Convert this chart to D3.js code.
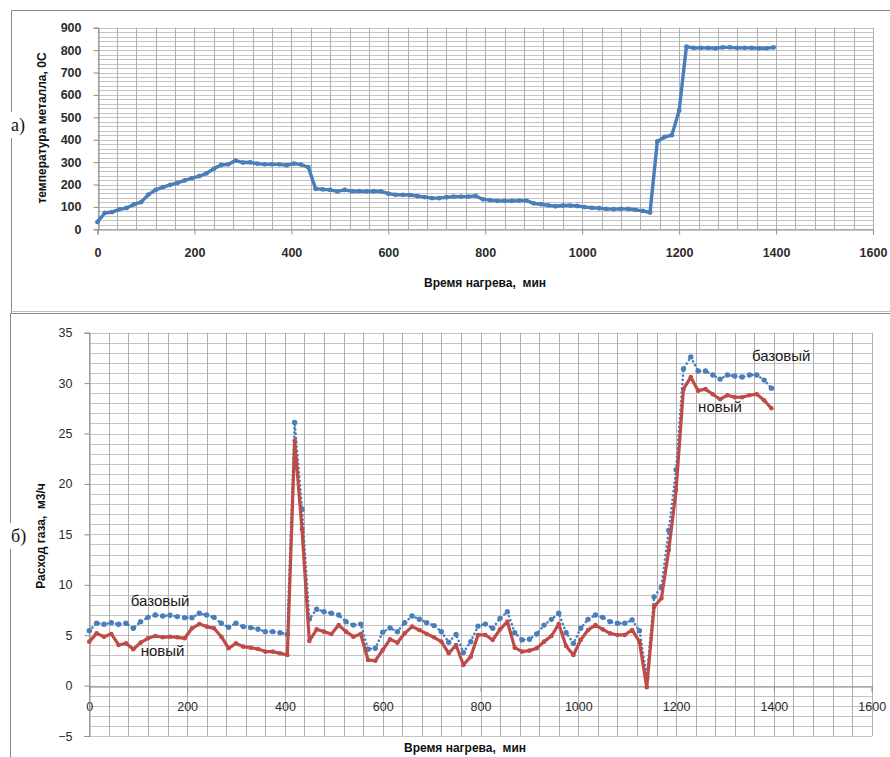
<!DOCTYPE html>
<html>
<head>
<meta charset="utf-8">
<script src="https://cdn.jsdelivr.net/npm/d3@7"></script>
<style>
	body { margin: 0; background: white; }
	svg { display: block; }
	text { white-space: pre; }
</style>
</head>
<body>
<div id="viz"></div>
<script>

// Time of heating, min (one reading every 15 min)
var times = [
	0, 15, 30, 45, 60, 75, 90, 105, 120, 135,
	150, 165, 180, 195, 210, 225, 240, 255, 270, 285,
	300, 315, 330, 345, 360, 375, 390, 405, 420, 435,
	450, 465, 480, 495, 510, 525, 540, 555, 570, 585,
	600, 615, 630, 645, 660, 675, 690, 705, 720, 735,
	750, 765, 780, 795, 810, 825, 840, 855, 870, 885,
	900, 915, 930, 945, 960, 975, 990, 1005, 1020, 1035,
	1050, 1065, 1080, 1095, 1110, 1125, 1140, 1155, 1170, 1185,
	1200, 1215, 1230, 1245, 1260, 1275, 1290, 1305, 1320, 1335,
	1350, 1365, 1380, 1395
];

// а) metal temperature, 0C
var metalTemp = [
	33, 73, 77, 89, 95, 111, 121, 155, 176, 188,
	198, 207, 218, 228, 237, 250, 270, 287, 290, 307,
	298, 299, 293, 290, 290, 290, 286, 293, 289, 277,
	181, 178, 176, 169, 176, 170, 170, 169, 170, 169,
	159, 154, 154, 153, 148, 144, 139, 139, 143, 146,
	146, 146, 149, 134, 130, 127, 127, 127, 128, 128,
	116, 112, 107, 103, 106, 106, 104, 99, 96, 94,
	91, 90, 91, 91, 87, 82, 75, 392, 412, 420,
	530, 815, 810, 810, 810, 808, 812, 812, 810, 810,
	810, 808, 808, 812
];

// б) gas flow, m3/h - base mode
var gasBase = [
	5.45, 6.18, 6.08, 6.24, 6.08, 6.18, 5.68, 6.34, 6.77, 7.0,
	6.9, 6.97, 6.84, 6.74, 6.74, 7.17, 7.0, 6.77, 6.18, 5.78,
	6.18, 5.85, 5.75, 5.6, 5.35, 5.35, 5.25, 5.08, 26.1, 17.5,
	6.6, 7.57, 7.33, 7.17, 7.0, 6.34, 6.0, 6.1, 3.6, 3.7,
	5.3, 5.72, 5.35, 6.24, 6.9, 6.58, 6.24, 5.95, 5.35, 4.3,
	5.08, 3.27, 4.36, 5.9, 6.1, 5.68, 6.67, 7.33, 5.25, 4.53,
	4.59, 5.12, 6.0, 6.57, 7.17, 5.25, 4.19, 5.68, 6.57, 7.0,
	6.77, 6.34, 6.18, 6.18, 6.5, 5.45, 0.8, 8.8, 9.8, 15.4,
	21.4, 31.4, 32.6, 31.2, 31.2, 30.8, 30.4, 30.8, 30.7, 30.6,
	30.8, 30.8, 30.3, 29.5
];

// б) gas flow, m3/h - new mode
var gasNew = [
	4.36, 5.18, 4.85, 5.12, 4.03, 4.19, 3.6, 4.26, 4.69, 4.92,
	4.79, 4.85, 4.79, 4.69, 5.68, 6.1, 5.85, 5.68, 4.85, 3.7,
	4.19, 3.86, 3.76, 3.63, 3.37, 3.37, 3.2, 3.04, 24.3, 15.5,
	4.42, 5.58, 5.35, 5.12, 6.0, 5.35, 4.85, 5.12, 2.54, 2.47,
	3.53, 4.59, 4.26, 5.18, 5.85, 5.52, 5.12, 4.79, 4.36, 3.2,
	4.03, 2.04, 2.87, 5.02, 5.02, 4.52, 5.58, 6.34, 3.76, 3.37,
	3.47, 3.7, 4.36, 4.92, 6.1, 3.93, 3.04, 4.53, 5.52, 6.0,
	5.58, 5.18, 5.02, 5.02, 5.52, 4.36, -0.17, 7.83, 8.66, 13.45,
	19.4, 29.4, 30.6, 29.25, 29.4, 28.9, 28.4, 28.8, 28.6, 28.6,
	28.8, 28.9, 28.3, 27.5
];

// Axis ticks
var xTicks = [0, 200, 400, 600, 800, 1000, 1200, 1400, 1600];
var tempTicks = [0, 100, 200, 300, 400, 500, 600, 700, 800, 900];
var gasTicks = [-5, 0, 5, 10, 15, 20, 25, 30, 35];

// Texts
var xTitle = "Время нагрева,  мин";
var tempTitle = "температура металла, 0С";
var gasTitle = "Расход газа,  м3/ч";
var baseLabel = "базовый";
var newLabel = "новый";

var colors = {
	blue: "#4a7ebb",
	red: "#be4b48",
	gridV: "#b0b0b0",
	gridH: "#c4c4c4",
	axis: "#8c8c8c",
	text: "#2b2b2b",
	frame: "#8a8a8a"
};

var font = "'Liberation Sans', Arial, sans-serif";

var width = 890,
	height = 757;

var svg = d3.select("#viz")
	.append("svg")
	.attr("width", width)
	.attr("height", height)
	.style("background-color", "white");

// Outer frames of the two charts
var frame = svg.append("g")
	.style("fill", "none")
	.style("stroke", colors.frame)
	.style("stroke-width", 1);
frame.append("path").attr("d", "M11.5,313V10.5H890");
frame.append("path").attr("d", "M10.5,757V313.5H890");
frame.append("path").attr("d", "M10.5,311.5H890").style("stroke", "#c0c0c0");

// Draw a grid with d3 scales
var drawGrid = (g, x, y, xStep, yStep) => {
	var xs = d3.range(x.domain()[0], x.domain()[1] + 0.01, xStep),
		ys = d3.range(y.domain()[0], y.domain()[1] + 0.001, yStep);
	g.selectAll(".h-grid")
		.data(ys)
		.enter()
		.append("line")
		.attr("class", "h-grid")
		.attr("x1", x.range()[0])
		.attr("x2", x.range()[1])
		.attr("y1", d => Math.round(y(d)) + 0.5)
		.attr("y2", d => Math.round(y(d)) + 0.5)
		.style("stroke", colors.gridH)
		.style("stroke-width", 1);
	g.selectAll(".v-grid")
		.data(xs)
		.enter()
		.append("line")
		.attr("class", "v-grid")
		.attr("x1", d => Math.round(x(d)) + 0.5)
		.attr("x2", d => Math.round(x(d)) + 0.5)
		.attr("y1", y.range()[0])
		.attr("y2", y.range()[1])
		.style("stroke", colors.gridV)
		.style("stroke-width", 1);
};

// ---------- а) metal temperature ----------
var xTop = d3.scaleLinear([0, 1600], [97.5, 873]),
	yTop = d3.scaleLinear([0, 900], [229.3, 27.7]);

var tempChart = svg.append("g");
drawGrid(tempChart, xTop, yTop, 40, 20);

tempChart.append("g")
	.attr("transform", `translate(0,${Math.round(yTop(0)) + 0.5})`)
	.call(d3.axisBottom(xTop).tickValues(xTicks).tickSize(5).tickPadding(14).tickFormat(d3.format("d")))
	.call(g => g.selectAll("line, path").style("stroke", colors.axis))
	.call(g => g.selectAll("text").style("font-weight", "bold"));

tempChart.append("g")
	.attr("transform", `translate(${Math.round(xTop(0)) + 0.5},0)`)
	.call(d3.axisLeft(yTop).tickValues(tempTicks).tickSize(5).tickPadding(12))
	.call(g => g.selectAll("line, path").style("stroke", colors.axis))
	.call(g => g.selectAll("text").style("font-weight", "bold"));

var tempPoints = times.map((t, i) => ({t: t, v: metalTemp[i]}));

tempChart.append("path")
	.datum(tempPoints)
	.attr("d", d3.line().x(d => xTop(d.t)).y(d => yTop(d.v)))
	.style("fill", "none")
	.style("stroke", colors.blue)
	.style("stroke-width", 3.4)
	.style("stroke-linejoin", "round");

tempChart.selectAll(".temp-marker")
	.data(tempPoints)
	.enter()
	.append("circle")
	.attr("class", "temp-marker")
	.attr("cx", d => xTop(d.t))
	.attr("cy", d => yTop(d.v))
	.attr("r", 2.4)
	.style("fill", colors.blue);

tempChart.append("text")
	.attr("class", "title")
	.attr("x", 485)
	.attr("y", 287)
	.attr("text-anchor", "middle")
	.text(xTitle);

tempChart.append("text")
	.attr("class", "title")
	.attr("transform", "translate(46,128) rotate(-90)")
	.attr("text-anchor", "middle")
	.text(tempTitle);

// ---------- б) gas flow ----------
var xBot = d3.scaleLinear([0, 1600], [89.3, 871.7]),
	yBot = d3.scaleLinear([-5, 35], [736, 332.7]);

var gasChart = svg.append("g");
drawGrid(gasChart, xBot, yBot, 40, 1);

gasChart.append("g")
	.attr("transform", `translate(0,${Math.round(yBot(0)) + 0.5})`)
	.call(d3.axisBottom(xBot).tickValues(xTicks).tickSize(5).tickPadding(11).tickFormat(d3.format("d")))
	.call(g => g.selectAll("line, path").style("stroke", colors.axis));

gasChart.append("g")
	.attr("transform", `translate(${Math.round(xBot(0)) + 0.5},0)`)
	.call(d3.axisLeft(yBot).tickValues(gasTicks).tickSize(5).tickPadding(12))
	.call(g => g.selectAll("line, path").style("stroke", colors.axis));

var basePoints = times.map((t, i) => ({t: t, v: gasBase[i]})),
	newPoints = times.map((t, i) => ({t: t, v: gasNew[i]}));

var gasLine = d3.line().x(d => xBot(d.t)).y(d => yBot(d.v));

gasChart.append("path")
	.datum(basePoints)
	.attr("d", gasLine)
	.style("fill", "none")
	.style("stroke", colors.blue)
	.style("stroke-width", 2.6)
	.style("stroke-linecap", "round")
	.style("stroke-dasharray", "0.1, 4.2");

gasChart.selectAll(".base-marker")
	.data(basePoints)
	.enter()
	.append("circle")
	.attr("class", "base-marker")
	.attr("cx", d => xBot(d.t))
	.attr("cy", d => yBot(d.v))
	.attr("r", 2.7)
	.style("fill", colors.blue);

gasChart.append("path")
	.datum(newPoints)
	.attr("d", gasLine)
	.style("fill", "none")
	.style("stroke", colors.red)
	.style("stroke-width", 3.2)
	.style("stroke-linejoin", "round");

gasChart.selectAll(".new-marker")
	.data(newPoints)
	.enter()
	.append("circle")
	.attr("class", "new-marker")
	.attr("cx", d => xBot(d.t))
	.attr("cy", d => yBot(d.v))
	.attr("r", 2.3)
	.style("fill", colors.red);

gasChart.append("text")
	.attr("class", "title")
	.attr("x", 465)
	.attr("y", 752)
	.attr("text-anchor", "middle")
	.text(xTitle);

gasChart.append("text")
	.attr("class", "title")
	.attr("transform", "translate(45,536) rotate(-90)")
	.attr("text-anchor", "middle")
	.text(gasTitle);

// Series annotations
var notes = [
	{text: baseLabel, t: 85, v: 7.9},
	{text: newLabel, t: 105, v: 2.9},
	{text: baseLabel, t: 1355, v: 32.2},
	{text: newLabel, t: 1245, v: 27.1}
];
gasChart.selectAll(".note")
	.data(notes)
	.enter()
	.append("text")
	.attr("class", "note")
	.attr("x", d => xBot(d.t))
	.attr("y", d => yBot(d.v))
	.text(d => d.text);

// Panel letters with white background over the frame
var letters = [{text: "а)", x: 10, y: 126}, {text: "б)", x: 10, y: 537}];
letters.forEach(d => {
	svg.append("rect")
		.attr("x", d.x - 2)
		.attr("y", d.y - 14)
		.attr("width", 20)
		.attr("height", 26)
		.style("fill", "white");
	svg.append("text")
		.attr("class", "letter")
		.attr("x", d.x + 1)
		.attr("y", d.y + 5)
		.text(d.text);
});

// Global text properties
svg.selectAll("text")
	.style("font-family", font);
svg.selectAll(".tick text")
	.style("font-size", "12.5px")
	.style("fill", colors.text);
svg.selectAll(".title")
	.style("font-size", "12px")
	.style("font-weight", "bold")
	.style("fill", "#111");
svg.selectAll(".note")
	.style("font-size", "15px")
	.style("fill", "#1a1a1a");
svg.selectAll(".letter")
	.style("font-family", "'Liberation Serif', 'Times New Roman', serif")
	.style("font-size", "18px")
	.style("fill", "#111");

</script>
</body>
</html>
